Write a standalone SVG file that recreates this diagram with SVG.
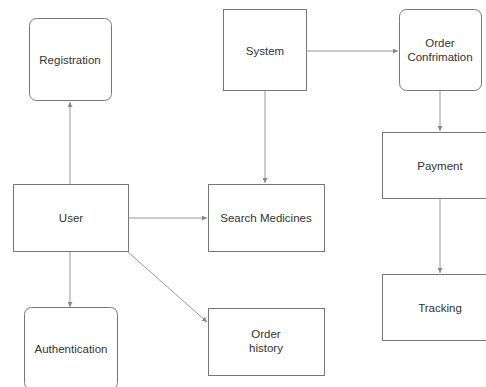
<svg xmlns="http://www.w3.org/2000/svg" width="486" height="387" viewBox="0 0 486 387">
<defs>
<style>
.box{fill:#fff;stroke:#777;stroke-width:1}
.t{font-family:"Liberation Sans",Arial,sans-serif;font-size:11.5px;fill:#333;text-anchor:middle;dominant-baseline:central}
.c{stroke:#999;stroke-width:1;fill:none;marker-end:url(#ah)}
</style>
<marker id="ah" viewBox="0 0 6 6" refX="6" refY="3" markerWidth="5" markerHeight="5" orient="auto" markerUnits="userSpaceOnUse">
<path d="M0,0 L6,3 L0,6 z" fill="#888"/>
</marker>
</defs>
<rect width="486" height="387" fill="#fff"/>
<g id="connectors">
<line class="c" x1="70" y1="184" x2="70" y2="102"/>
<line class="c" x1="70" y1="252" x2="70" y2="307"/>
<line class="c" x1="128" y1="218" x2="207" y2="218"/>
<line class="c" x1="128" y1="252" x2="207" y2="322"/>
<line class="c" x1="265" y1="91" x2="265" y2="183"/>
<line class="c" x1="306" y1="51" x2="398" y2="51"/>
<line class="c" x1="440" y1="91" x2="440" y2="131"/>
<line class="c" x1="440" y1="199" x2="440" y2="273"/>
</g>
<g id="registration">
<rect class="box" x="29.5" y="18.5" width="82" height="82" rx="7"/>
<text class="t" x="70" y="60">Registration</text>
</g>
<g id="system">
<rect class="box" x="223.5" y="9.5" width="83" height="81"/>
<text class="t" x="265" y="51">System</text>
</g>
<g id="order-confirmation">
<rect class="box" x="399.5" y="9.5" width="82" height="81" rx="7"/>
<text class="t" x="440" y="43">Order</text>
<text class="t" x="440" y="57">Confrimation</text>
</g>
<g id="user">
<rect class="box" x="13.5" y="184.5" width="115" height="67"/>
<text class="t" x="71" y="218">User</text>
</g>
<g id="search-medicines">
<rect class="box" x="208.5" y="184.5" width="116" height="67"/>
<text class="t" x="266" y="218">Search Medicines</text>
</g>
<g id="payment">
<rect class="box" x="382.5" y="132.5" width="110" height="66"/>
<text class="t" x="440" y="166">Payment</text>
</g>
<g id="tracking">
<rect class="box" x="382.5" y="274.5" width="110" height="66"/>
<text class="t" x="440" y="308">Tracking</text>
</g>
<g id="authentication">
<rect class="box" x="24.5" y="307.5" width="93" height="82" rx="7"/>
<text class="t" x="71" y="349">Authentication</text>
</g>
<g id="order-history">
<rect class="box" x="208.5" y="308.5" width="116" height="67"/>
<text class="t" x="266" y="334">Order</text>
<text class="t" x="266" y="348">history</text>
</g>
</svg>
